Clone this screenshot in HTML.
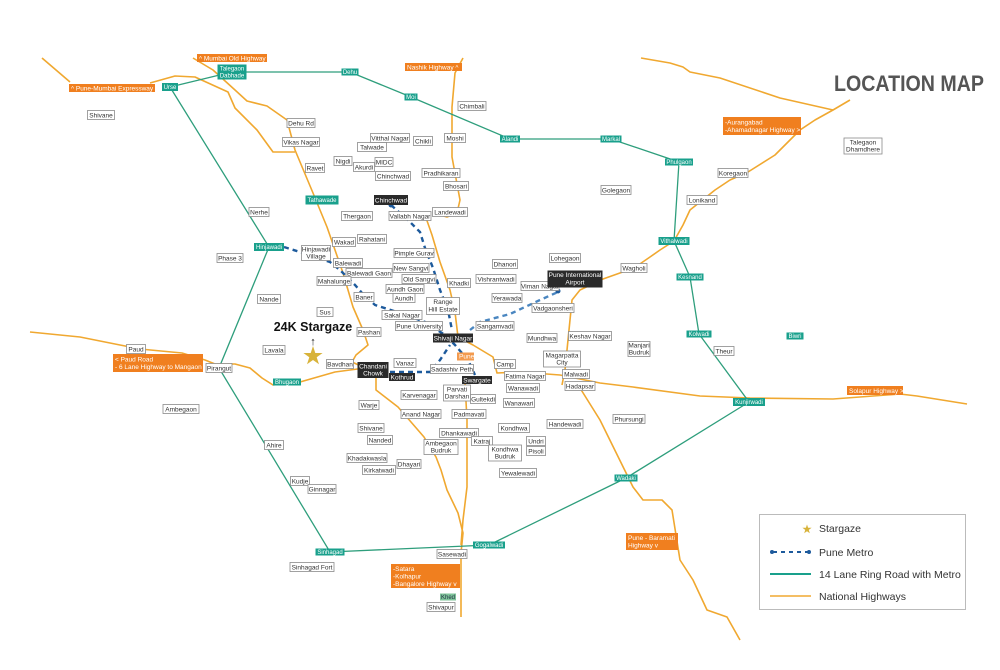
<!DOCTYPE html>
<html><head><meta charset="utf-8"><style>
html,body{margin:0;padding:0;background:#fff}
svg{display:block}
text{font-family:"Liberation Sans",sans-serif}
.b{fill:#fff;stroke:#8a8a8a;stroke-width:0.8}
.t{font-size:6.5px;fill:#333;text-anchor:middle}
.k{fill:#2a2a2a}
.kt{font-size:6.5px;fill:#fff;text-anchor:middle}
.g{fill:#19a08c}
.gt{font-size:6px;fill:#fff;text-anchor:middle}
.o{fill:#f07f1f}
.ot{font-size:6.5px;fill:#fff}
.hw{fill:none;stroke:#f0a830;stroke-width:1.6;stroke-linejoin:round}
.rr{fill:none;stroke:#2e9e7c;stroke-width:1.3}
.mt{fill:none;stroke:#1d5a9c;stroke-width:2.4;stroke-dasharray:5 4}
</style></head><body>
<svg width="1000" height="670" viewBox="0 0 1000 670">
<!-- highways -->
<polyline class="hw" points="42,58 70,82"/>
<polyline class="hw" points="150,83 175,76 195,77 228,92 235,108 257,130 273,152 295,152"/>
<polyline class="hw" points="193,58 213,70 235,90 247,101 267,106 287,120 295,150 313,193 327,227 343,273 353,307 363,330 368,345 356,355 352,362 365,368 335,372 300,382 273,385 262,378 250,368 235,364 215,364 205,360 182,353 140,349 120,345 80,337 30,332"/>
<polyline class="hw" points="376,372 376,390 398,407 424,437 436,457 441,470 447,490 458,513 463,533 461,553 461,617"/>
<polyline class="hw" points="465,383 467,420 467,487 463,520 461,545"/>
<polyline class="hw" points="463,58 455,73 452,107 452,157 460,200 457,213 447,217 433,213"/>
<polyline class="hw" points="425,215 432,235 440,262 450,290 455,312 458,337 473,345 493,357 497,373 520,372 560,375 600,383 633,387 700,396 750,398 833,399 900,394 917,396 967,404"/>
<polyline class="hw" points="641,58 670,63 683,67 690,72 720,78 780,98 833,110 850,100"/>
<polyline class="hw" points="833,110 815,120 800,130 775,155 748,172 730,180 715,190 700,202 690,210 683,225 674,241 660,250 650,257 634,268 603,279 580,290 572,300 568,340 565,370 562,385"/>
<polyline class="hw" points="580,388 600,420 633,487 643,500 662,500 672,510 680,560 693,580 707,610 727,617 740,640"/>
<!-- ring road -->
<polyline class="rr" points="170,87 232,72 350,72 411,97 510,139 611,139 679,162 674,241 690,277 699,334 749,402 626,478 489,545 330,552 219,368 269,247 170,87"/>
<!-- metro -->
<polyline class="mt" points="284,247 300,252 330,262 340,270 355,285 362,293 375,305 400,313 425,322 445,335 455,345 468,360 475,375"/>
<polyline class="mt" points="391,205 410,222 420,232 425,248 433,268 440,290 448,310 452,330"/>
<polyline class="mt" points="390,372 430,372 440,360 450,345"/>
<polyline class="mt" style="stroke:#4a86c0" points="470,330 480,322 510,314 540,300 558,292"/>
<circle cx="391" cy="205" r="2.5" fill="#1d5a9c"/><circle cx="558" cy="291" r="2.5" fill="#1d5a9c"/>
<!-- title -->
<text x="834" y="91" textLength="150" lengthAdjust="spacingAndGlyphs" style="font-size:22px;fill:#555;font-weight:bold">LOCATION MAP</text>
<!-- plain labels -->
<g>
<rect class="b" x="87.5" y="110.5" width="27" height="9"/><text class="t" x="101" y="117.5">Shivane</text>
<rect class="b" x="287" y="118.5" width="28" height="9"/><text class="t" x="301" y="125.5">Dehu Rd</text>
<rect class="b" x="282.5" y="137.5" width="37" height="9"/><text class="t" x="301" y="144.5">Vikas Nagar</text>
<rect class="b" x="305.5" y="163.5" width="19" height="9"/><text class="t" x="315" y="170.5">Ravet</text>
<rect class="b" x="370.5" y="133.5" width="39" height="9"/><text class="t" x="390" y="140.5">Vitthal Nagar</text>
<rect class="b" x="413.5" y="136.5" width="19" height="9"/><text class="t" x="423" y="143.5">Chikli</text>
<rect class="b" x="357.5" y="142.5" width="29" height="9"/><text class="t" x="372" y="149.5">Talwade</text>
<rect class="b" x="444.5" y="133.5" width="21" height="9"/><text class="t" x="455" y="140.5">Moshi</text>
<rect class="b" x="458" y="101.5" width="28" height="9"/><text class="t" x="472" y="108.5">Chimbali</text>
<rect class="b" x="334" y="156.5" width="18" height="9"/><text class="t" x="343" y="163.5">Nigdi</text>
<rect class="b" x="353.5" y="162.5" width="21" height="9"/><text class="t" x="364" y="169.5">Akurdi</text>
<rect class="b" x="375" y="157.5" width="18" height="9"/><text class="t" x="384" y="164.5">MIDC</text>
<rect class="b" x="375.5" y="171.5" width="35" height="9"/><text class="t" x="393" y="178.5">Chinchwad</text>
<rect class="b" x="422" y="168.5" width="38" height="9"/><text class="t" x="441" y="175.5">Pradhikaran</text>
<rect class="b" x="443.5" y="181.5" width="25" height="9"/><text class="t" x="456" y="188.5">Bhosari</text>
<rect class="b" x="341.5" y="211.5" width="31" height="9"/><text class="t" x="357" y="218.5">Thergaon</text>
<rect class="b" x="389" y="211.5" width="42" height="9"/><text class="t" x="410" y="218.5">Vallabh Nagar</text>
<rect class="b" x="432.5" y="207.5" width="35" height="9"/><text class="t" x="450" y="214.5">Landewadi</text>
<rect class="b" x="249" y="207.5" width="20" height="9"/><text class="t" x="259" y="214.5">Nerhe</text>
<rect class="b" x="332.5" y="237.5" width="23" height="9"/><text class="t" x="344" y="244.5">Wakad</text>
<rect class="b" x="357.5" y="234.5" width="29" height="9"/><text class="t" x="372" y="241.5">Rahatani</text>
<rect class="b" x="217" y="253.5" width="26" height="9"/><text class="t" x="230" y="260.5">Phase 3</text>
<rect class="b" x="394" y="248.5" width="40" height="9"/><text class="t" x="414" y="255.5">Pimple Gurav</text>
<rect class="b" x="333.5" y="258.5" width="29" height="9"/><text class="t" x="348" y="265.5">Balewadi</text>
<rect class="b" x="393" y="263.5" width="36" height="9"/><text class="t" x="411" y="270.5">New Sangvi</text>
<rect class="b" x="346" y="268.5" width="46" height="9"/><text class="t" x="369" y="275.5">Balewadi Gaon</text>
<rect class="b" x="402" y="274.5" width="34" height="9"/><text class="t" x="419" y="281.5">Old Sangvi</text>
<rect class="b" x="317" y="276.5" width="34" height="9"/><text class="t" x="334" y="283.5">Mahalunge</text>
<rect class="b" x="447.5" y="278.5" width="23" height="9"/><text class="t" x="459" y="285.5">Khadki</text>
<rect class="b" x="386" y="284.5" width="38" height="9"/><text class="t" x="405" y="291.5">Aundh Gaon</text>
<rect class="b" x="393" y="293.5" width="22" height="9"/><text class="t" x="404" y="300.5">Aundh</text>
<rect class="b" x="354" y="292.5" width="20" height="9"/><text class="t" x="364" y="299.5">Baner</text>
<rect class="b" x="257.5" y="294.5" width="23" height="9"/><text class="t" x="269" y="301.5">Nande</text>
<rect class="b" x="317" y="307.5" width="16" height="9"/><text class="t" x="325" y="314.5">Sus</text>
<rect class="b" x="382" y="310.5" width="40" height="9"/><text class="t" x="402" y="317.5">Sakal Nagar</text>
<rect class="b" x="395.5" y="321.5" width="47" height="9"/><text class="t" x="419" y="328.5">Pune University</text>
<rect class="b" x="357" y="327.5" width="24" height="9"/><text class="t" x="369" y="334.5">Pashan</text>
<rect class="b" x="492.5" y="259.5" width="25" height="9"/><text class="t" x="505" y="266.5">Dhanori</text>
<rect class="b" x="549.5" y="253.5" width="31" height="9"/><text class="t" x="565" y="260.5">Lohegaon</text>
<rect class="b" x="476" y="274.5" width="40" height="9"/><text class="t" x="496" y="281.5">Vishrantwadi</text>
<rect class="b" x="521" y="281.5" width="38" height="9"/><text class="t" x="540" y="288.5">Viman Nagar</text>
<rect class="b" x="621" y="263.5" width="26" height="9"/><text class="t" x="634" y="270.5">Wagholi</text>
<rect class="b" x="492" y="293.5" width="30" height="9"/><text class="t" x="507" y="300.5">Yerawada</text>
<rect class="b" x="532" y="303.5" width="42" height="9"/><text class="t" x="553" y="310.5">Vadgaonsheri</text>
<rect class="b" x="476" y="321.5" width="38" height="9"/><text class="t" x="495" y="328.5">Sangamvadi</text>
<rect class="b" x="527" y="333.5" width="30" height="9"/><text class="t" x="542" y="340.5">Mundhwa</text>
<rect class="b" x="568.5" y="331.5" width="43" height="9"/><text class="t" x="590" y="338.5">Keshav Nagar</text>
<rect class="b" x="494.5" y="359.5" width="21" height="9"/><text class="t" x="505" y="366.5">Camp</text>
<rect class="b" x="326.5" y="359.5" width="27" height="9"/><text class="t" x="340" y="366.5">Bavdhan</text>
<rect class="b" x="394" y="358.5" width="22" height="9"/><text class="t" x="405" y="365.5">Vanaz</text>
<rect class="b" x="430.5" y="364.5" width="43" height="9"/><text class="t" x="452" y="371.5">Sadashiv Peth</text>
<rect class="b" x="562.5" y="369.5" width="27" height="9"/><text class="t" x="576" y="376.5">Malwadi</text>
<rect class="b" x="504.5" y="371.5" width="41" height="9"/><text class="t" x="525" y="378.5">Fatima Nagar</text>
<rect class="b" x="565" y="381.5" width="30" height="9"/><text class="t" x="580" y="388.5">Hadapsar</text>
<rect class="b" x="506.5" y="383.5" width="33" height="9"/><text class="t" x="523" y="390.5">Wanawadi</text>
<rect class="b" x="401" y="390.5" width="36" height="9"/><text class="t" x="419" y="397.5">Karvenagar</text>
<rect class="b" x="470.5" y="394.5" width="25" height="9"/><text class="t" x="483" y="401.5">Gultekdi</text>
<rect class="b" x="503.5" y="398.5" width="31" height="9"/><text class="t" x="519" y="405.5">Wanawari</text>
<rect class="b" x="359" y="400.5" width="20" height="9"/><text class="t" x="369" y="407.5">Warje</text>
<rect class="b" x="401" y="409.5" width="40" height="9"/><text class="t" x="421" y="416.5">Anand Nagar</text>
<rect class="b" x="452" y="409.5" width="34" height="9"/><text class="t" x="469" y="416.5">Padmavati</text>
<rect class="b" x="613" y="414.5" width="32" height="9"/><text class="t" x="629" y="421.5">Phursungi</text>
<rect class="b" x="547" y="419.5" width="36" height="9"/><text class="t" x="565" y="426.5">Handewadi</text>
<rect class="b" x="358" y="423.5" width="26" height="9"/><text class="t" x="371" y="430.5">Shivane</text>
<rect class="b" x="498.5" y="423.5" width="31" height="9"/><text class="t" x="514" y="430.5">Kondhwa</text>
<rect class="b" x="439.5" y="428.5" width="39" height="9"/><text class="t" x="459" y="435.5">Dhankawadi</text>
<rect class="b" x="367.5" y="435.5" width="25" height="9"/><text class="t" x="380" y="442.5">Nanded</text>
<rect class="b" x="471.5" y="436.5" width="21" height="9"/><text class="t" x="482" y="443.5">Katraj</text>
<rect class="b" x="526.5" y="436.5" width="19" height="9"/><text class="t" x="536" y="443.5">Undri</text>
<rect class="b" x="526.5" y="446.5" width="19" height="9"/><text class="t" x="536" y="453.5">Pisoli</text>
<rect class="b" x="347" y="453.5" width="40" height="9"/><text class="t" x="367" y="460.5">Khadakwasla</text>
<rect class="b" x="397" y="459.5" width="24" height="9"/><text class="t" x="409" y="466.5">Dhayari</text>
<rect class="b" x="362.5" y="465.5" width="33" height="9"/><text class="t" x="379" y="472.5">Kirkatwadi</text>
<rect class="b" x="499.5" y="468.5" width="37" height="9"/><text class="t" x="518" y="475.5">Yewalewadi</text>
<rect class="b" x="601" y="185.5" width="30" height="9"/><text class="t" x="616" y="192.5">Golegaon</text>
<rect class="b" x="718" y="168.5" width="30" height="9"/><text class="t" x="733" y="175.5">Koregaon</text>
<rect class="b" x="687" y="195.5" width="30" height="9"/><text class="t" x="702" y="202.5">Lonikand</text>
<rect class="b" x="714" y="346.5" width="20" height="9"/><text class="t" x="724" y="353.5">Theur</text>
<rect class="b" x="126.5" y="344.5" width="19" height="9"/><text class="t" x="136" y="351.5">Paud</text>
<rect class="b" x="206" y="363.5" width="26" height="9"/><text class="t" x="219" y="370.5">Pirangut</text>
<rect class="b" x="263" y="345.5" width="22" height="9"/><text class="t" x="274" y="352.5">Lavala</text>
<rect class="b" x="163" y="404.5" width="36" height="9"/><text class="t" x="181" y="411.5">Ambegaon</text>
<rect class="b" x="264.5" y="440.5" width="19" height="9"/><text class="t" x="274" y="447.5">Ahire</text>
<rect class="b" x="290.5" y="476.5" width="19" height="9"/><text class="t" x="300" y="483.5">Kudje</text>
<rect class="b" x="308" y="484.5" width="28" height="9"/><text class="t" x="322" y="491.5">Ginnagar</text>
<rect class="b" x="290" y="562.5" width="44" height="9"/><text class="t" x="312" y="569.5">Sinhagad Fort</text>
<rect class="b" x="437" y="549.5" width="30" height="9"/><text class="t" x="452" y="556.5">Sasewadi</text>
<rect class="b" x="427" y="602.5" width="28" height="9"/><text class="t" x="441" y="609.5">Shivapur</text>
<rect class="b" x="301.5" y="245.5" width="29" height="15"/><text class="t" x="316" y="251.5">Hinjawadi<tspan x="316" dy="7">Village</tspan></text>
<rect class="b" x="426.5" y="297.5" width="33" height="17"/><text class="t" x="443" y="304">Range<tspan x="443" dy="7.5">Hill Estate</tspan></text>
<rect class="b" x="628" y="341.5" width="22" height="15"/><text class="t" x="639" y="347.5">Manjari<tspan x="639" dy="7">Budruk</tspan></text>
<rect class="b" x="543.5" y="351" width="37" height="16"/><text class="t" x="562" y="357.5">Magarpatta<tspan x="562" dy="7">City</tspan></text>
<rect class="b" x="443.5" y="385" width="27" height="16"/><text class="t" x="457" y="391.5">Parvati<tspan x="457" dy="7">Darshan</tspan></text>
<rect class="b" x="424" y="439.5" width="34" height="15"/><text class="t" x="441" y="445.5">Ambegaon<tspan x="441" dy="7">Budruk</tspan></text>
<rect class="b" x="488.5" y="445" width="33" height="16"/><text class="t" x="505" y="451.5">Kondhwa<tspan x="505" dy="7">Budruk</tspan></text>
<rect class="b" x="844" y="138" width="38" height="16"/><text class="t" x="863" y="144.5">Talegaon<tspan x="863" dy="7">Dhamdhere</tspan></text>
</g>
<!-- black -->
<rect class="k" x="374" y="195" width="34" height="10"/><text class="kt" x="391" y="202.5">Chinchwad</text>
<rect class="k" x="433" y="333.5" width="40" height="9"/><text class="kt" x="453" y="340.5">Shivaji Nagar</text>
<rect class="k" x="357.5" y="362" width="31" height="16"/><text class="kt" x="373" y="368.5">Chandani<tspan x="373" dy="7">Chowk</tspan></text>
<rect class="k" x="389" y="373" width="26" height="8"/><text class="kt" x="402" y="379.5">Kothrud</text>
<rect class="k" x="462" y="376" width="30" height="8"/><text class="kt" x="477" y="382.5">Swargate</text>
<rect class="k" x="547.5" y="270.5" width="55" height="17"/><text class="kt" x="575" y="277">Pune International<tspan x="575" dy="7.5">Airport</tspan></text>
<!-- teal -->
<rect class="g" x="217.5" y="64.5" width="29" height="15"/><text class="gt" x="232" y="70.5">Talegaon<tspan x="232" dy="7">Dabhade</tspan></text>
<rect class="g" x="162" y="83" width="16" height="8"/><text class="gt" x="170" y="89">Urse</text>
<rect class="g" x="341.5" y="68.5" width="17" height="7"/><text class="gt" x="350" y="74">Dehu</text>
<rect class="g" x="404.5" y="93.5" width="13" height="7"/><text class="gt" x="411" y="99">Moi</text>
<rect class="g" x="500" y="135.5" width="20" height="7"/><text class="gt" x="510" y="141">Alandi</text>
<rect class="g" x="600.5" y="135.5" width="21" height="7"/><text class="gt" x="611" y="141">Markal</text>
<rect class="g" x="665" y="158.5" width="28" height="7"/><text class="gt" x="679" y="164">Phulgaon</text>
<rect class="g" x="305.5" y="195.5" width="33" height="9"/><text class="gt" x="322" y="202">Tathawade</text>
<rect class="g" x="254" y="243" width="30" height="8"/><text class="gt" x="269" y="249">Hinjawadi</text>
<rect class="g" x="658.5" y="237" width="31" height="8"/><text class="gt" x="674" y="243">Vithalwadi</text>
<rect class="g" x="676.5" y="273.5" width="27" height="7"/><text class="gt" x="690" y="279">Kesnand</text>
<rect class="g" x="686.5" y="330.5" width="25" height="7"/><text class="gt" x="699" y="336">Kolwadi</text>
<rect class="g" x="786.5" y="332.5" width="17" height="7"/><text class="gt" x="795" y="338">Biwri</text>
<rect class="g" x="733" y="398" width="32" height="8"/><text class="gt" x="749" y="404">Kunjirwadi</text>
<rect class="g" x="614.5" y="474.5" width="23" height="7"/><text class="gt" x="626" y="480">Wadaki</text>
<rect class="g" x="273" y="378.5" width="28" height="7"/><text class="gt" x="287" y="384">Bhugaon</text>
<rect class="g" x="315.5" y="548.5" width="29" height="7"/><text class="gt" x="330" y="554">Sinhagad</text>
<rect class="g" x="473" y="541.5" width="32" height="7"/><text class="gt" x="489" y="547">Gogalwadi</text>
<rect x="440" y="593.5" width="16" height="7" fill="#7fc49a"/><text class="gt" x="448" y="599" style="fill:#234">Khed</text>
<!-- orange -->
<rect class="o" x="197" y="54" width="70" height="8"/><text class="ot" x="199" y="60.5">^ Mumbai Old Highway</text>
<rect class="o" x="69" y="84" width="86" height="8"/><text class="ot" x="71" y="90.5">^ Pune-Mumbai Expressway</text>
<rect class="o" x="405" y="63" width="57" height="8"/><text class="ot" x="407" y="69.5">Nashik Highway ^</text>
<rect class="o" x="723" y="117" width="78" height="18"/><text class="ot" x="725" y="124.5">-Aurangabad<tspan x="725" dy="7.5">-Ahamadnagar Highway &gt;</tspan></text>
<rect class="o" x="113" y="354" width="90" height="18"/><text class="ot" x="115" y="361.5">&lt; Paud Road<tspan x="115" dy="7.5">- 6 Lane Highway to Mangaon</tspan></text>
<rect class="o" x="847" y="386" width="56" height="9"/><text class="ot" x="849" y="393">Solapur Highway &gt;</text>
<rect class="o" x="391" y="564" width="69" height="24"/><text class="ot" x="393" y="571">-Satara<tspan x="393" dy="7.5">-Kolhapur</tspan><tspan x="393" dy="7.5">-Bangalore Highway  v</tspan></text>
<rect class="o" x="626" y="533" width="52" height="17"/><text class="ot" x="628" y="540">Pune - Baramati<tspan x="628" dy="7.5">Highway  v</tspan></text>
<rect class="o" x="457" y="352.5" width="17" height="8" style="fill:#f39a4e"/><text class="ot" x="459" y="358.5">Pune</text>
<!-- stargaze -->
<text x="313" y="331" style="font-size:12.5px;font-weight:bold;fill:#111;text-anchor:middle">24K Stargaze</text>
<text x="313" y="345" style="font-size:11px;font-weight:bold;fill:#111;text-anchor:middle">↑</text>
<polygon points="313,346 315.3,353 322.6,353 316.7,357.3 319,364.3 313,360 307,364.3 309.3,357.3 303.4,353 310.7,353" fill="#d8b33a"/>
<!-- legend -->
<rect x="759.5" y="514.5" width="206" height="95" fill="#fff" stroke="#bbb" stroke-width="1"/>
<polygon points="807,524.5 808.1,527.8 811.6,527.8 808.8,529.9 809.8,533.2 807,531.2 804.2,533.2 805.2,529.9 802.4,527.8 805.9,527.8" fill="#d8b33a"/>
<text x="819" y="532" style="font-size:10.5px;fill:#333">Stargaze</text>
<line x1="773" y1="552" x2="809" y2="552" stroke="#1d5a9c" stroke-width="2" stroke-dasharray="4 4"/>
<circle cx="772" cy="552" r="2" fill="#1d5a9c"/><circle cx="809" cy="552" r="2" fill="#1d5a9c"/>
<text x="819" y="556" style="font-size:10.5px;fill:#333">Pune Metro</text>
<line x1="770" y1="574" x2="811" y2="574" stroke="#19a08c" stroke-width="2"/>
<text x="819" y="578" style="font-size:10.5px;fill:#333">14 Lane Ring Road with Metro</text>
<line x1="770" y1="596" x2="811" y2="596" stroke="#f0a830" stroke-width="1.6"/>
<text x="819" y="600" style="font-size:10.5px;fill:#333">National Highways</text>
</svg>
</body></html>
